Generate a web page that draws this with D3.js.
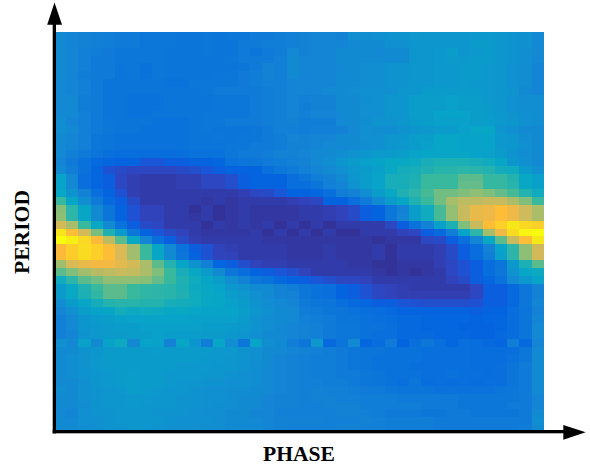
<!DOCTYPE html>
<html>
<head>
<meta charset="utf-8">
<script src="https://cdn.jsdelivr.net/npm/d3@7"></script>
<style>
  body { margin: 0; background: #fff; }
  svg { display: block; }
  .axis-label { font-family: "Liberation Serif", serif; font-weight: bold; font-size: 21.6px; }
</style>
</head>
<body>
<svg id="chart"></svg>
<script>
// colour values, top row first, left to right (0-100)
const heat = [
[27,25,24,23,22,21,21,20,20,20,19,19,20,19,20,20,21,21,22,23,24,25,25,24,28,28,29,30,30,32,31,31,31,31,32,32,31,30,29,26],
[27,25,24,23,22,21,21,20,20,20,19,19,20,19,19,21,21,22,22,23,24,25,25,25,26,27,27,29,29,31,31,31,31,31,33,33,31,30,29,26],
[27,25,23,22,21,20,20,20,20,19,19,19,20,19,19,21,19,21,22,26,24,25,25,27,27,27,26,27,27,31,31,32,34,31,32,33,31,30,28,26],
[27,25,23,21,21,20,20,20,20,19,19,19,19,19,20,21,21,21,23,27,25,25,25,27,27,27,27,27,27,31,31,32,33,32,33,33,31,30,28,26],
[27,25,23,21,21,19,20,18,20,19,19,19,19,19,19,20,21,24,23,27,25,25,25,26,27,28,28,30,30,31,31,32,32,33,33,32,31,29,28,25],
[27,25,22,21,21,19,20,18,20,19,19,19,19,20,20,21,22,24,23,27,25,25,25,26,27,28,28,30,30,31,31,32,32,33,33,32,31,29,28,25],
[26,25,23,21,19,19,19,19,19,18,18,20,20,20,20,21,22,23,23,25,25,25,25,27,27,28,28,30,30,31,31,32,32,33,32,32,31,29,28,25],
[26,25,23,21,19,19,19,19,19,19,19,19,20,21,21,21,21,22,23,25,25,25,26,27,28,29,29,29,31,31,33,33,33,33,33,32,31,30,27,25],
[26,26,22,21,19,19,18,18,18,19,19,19,19,20,20,20,21,22,23,25,23,24,24,27,27,28,29,31,31,34,34,34,35,34,34,32,31,29,28,28],
[26,26,22,21,19,19,18,18,18,19,19,19,19,20,20,20,21,22,23,25,22,24,24,27,27,29,29,31,31,34,34,34,35,34,34,33,31,29,28,28],
[26,26,23,21,19,19,18,18,19,19,19,19,20,20,20,20,21,22,23,25,23,25,25,26,27,29,29,31,31,34,34,36,36,36,34,33,32,30,29,28],
[28,25,23,21,20,19,19,19,18,18,18,19,20,20,21,21,21,22,23,24,22,22,22,26,27,28,30,30,31,33,34,35,35,35,34,34,32,31,29,28],
[28,26,23,21,20,19,19,18,18,18,18,19,20,19,19,19,20,21,23,23,22,23,23,24,26,29,28,28,30,31,32,33,33,35,37,37,31,29,27,27],
[27,25,23,20,19,18,18,18,18,18,18,19,19,20,19,20,20,21,22,25,24,25,25,27,27,29,29,31,31,34,34,37,37,36,36,36,32,31,28,27],
[26,25,23,20,19,18,18,18,18,18,18,19,19,19,20,20,21,21,22,24,24,25,26,26,27,28,29,31,32,33,35,37,37,36,36,36,32,31,29,27],
[26,23,21,19,17,16,16,16,16,16,17,18,18,18,20,21,21,22,24,24,25,26,27,28,30,31,33,33,34,36,37,37,37,37,36,35,33,30,28,27],
[25,21,18,15,14,13,13,11,11,12,12,13,13,14,18,19,20,21,22,23,24,26,28,31,33,35,36,38,38,39,42,43,43,43,42,40,37,31,29,27],
[27,22,18,14,10,8,7,7,7,7,8,9,11,12,13,13,13,17,20,21,23,25,27,29,32,33,35,38,41,42,44,46,46,47,46,45,41,40,33,29],
[36,26,17,14,12,7,5,4,4,4,5,5,7,7,9,12,13,13,13,17,19,22,24,27,31,34,36,42,42,43,50,50,50,55,55,49,49,45,38,35],
[36,26,17,14,12,7,5,4,4,4,5,5,7,7,9,12,13,13,13,17,17,19,23,25,30,34,36,42,42,44,50,50,50,56,56,49,49,46,38,35],
[38,30,24,17,13,10,5,4,4,4,4,4,4,4,4,5,7,8,11,13,13,14,17,22,24,28,34,38,44,47,52,58,58,60,62,60,56,52,45,40],
[50,37,28,21,15,12,8,4,4,4,4,4,3,4,3,4,4,4,4,5,6,7,13,13,17,21,27,33,37,44,50,58,66,70,70,72,72,67,60,50],
[61,47,37,27,19,13,10,6,6,4,4,2,4,2,3,4,3,3,3,3,4,4,5,6,8,12,13,20,24,34,40,52,63,72,78,79,83,79,73,67],
[62,47,37,27,19,13,10,6,6,4,4,3,4,2,3,4,3,3,3,3,4,4,5,6,8,12,13,20,25,34,40,52,63,72,78,79,83,79,73,67],
[74,66,50,38,27,18,12,8,7,4,4,4,2,4,3,4,3,4,2,4,2,4,2,4,4,4,4,7,12,18,24,35,43,60,72,83,88,94,90,88],
[93,83,74,59,44,33,20,13,11,8,6,4,3,3,3,3,4,2,4,2,4,2,4,2,2,4,4,4,6,7,12,15,22,36,47,66,79,91,98,100],
[100,96,90,82,70,55,38,25,17,12,8,5,4,4,4,4,4,3,3,3,3,3,3,3,3,3,2,3,3,3,7,8,12,17,25,38,55,72,83,94],
[82,87,91,88,83,75,65,50,37,26,18,12,10,6,5,4,4,4,4,3,3,3,4,3,3,3,4,2,4,4,4,5,8,12,16,24,36,47,62,74],
[82,87,91,88,83,75,65,50,37,27,19,13,10,6,6,4,4,4,4,3,3,3,4,3,3,3,4,2,4,4,4,5,8,12,16,22,35,47,62,74],
[65,75,78,80,80,77,74,67,55,45,37,30,23,14,12,9,6,5,5,4,4,4,4,4,3,3,2,2,3,3,3,5,7,10,12,16,19,32,43,55],
[55,60,65,69,70,72,71,67,60,50,42,38,33,27,20,16,13,12,11,9,6,4,4,4,4,4,3,2,3,2,3,4,7,10,12,16,20,30,37,39],
[40,47,55,58,62,62,62,61,56,50,44,40,37,34,28,24,20,18,15,13,12,11,9,7,7,6,4,4,4,4,4,4,6,8,12,14,18,26,32,36],
[33,38,44,50,55,55,50,48,47,46,43,39,38,36,32,30,27,27,24,22,20,18,17,13,12,10,7,6,5,4,4,4,4,4,7,12,12,15,20,24],
[33,38,43,48,55,55,50,48,47,46,44,40,38,37,34,32,29,27,24,24,20,18,17,13,12,10,7,6,5,5,5,5,5,5,7,12,12,15,20,24],
[28,33,37,41,45,46,46,45,45,42,41,40,38,37,35,33,30,28,26,25,21,20,19,17,15,14,12,12,11,10,9,9,9,9,10,12,12,15,20,25],
[25,29,34,36,37,41,39,40,39,38,38,37,36,36,36,34,31,29,27,26,22,21,20,19,18,17,16,15,13,13,13,13,13,13,12,13,13,16,19,24],
[23,26,31,33,34,35,36,36,36,36,36,35,35,35,35,33,30,28,27,26,23,22,21,19,19,18,17,16,15,15,14,14,14,14,13,14,14,16,19,25],
[23,26,31,32,33,34,34,35,35,35,35,35,34,34,33,32,30,28,26,25,24,23,21,20,20,18,18,17,15,15,14,14,14,13,13,13,14,16,19,26],
[23,25,30,32,33,33,34,34,35,34,34,34,33,33,32,31,29,27,26,25,24,23,21,20,20,18,17,17,15,15,15,14,14,14,13,13,15,16,19,26],
[29,26,35,27,36,39,26,36,35,24,37,31,22,37,28,20,36,28,27,22,20,32,15,19,26,14,16,21,13,17,20,17,14,17,16,15,14,22,15,25],
[27,27,30,31,33,33,33,33,34,33,33,33,33,32,32,30,29,27,26,25,24,23,22,21,20,19,19,18,18,18,17,17,17,17,16,16,16,17,20,26],
[27,28,30,32,33,33,33,33,33,33,33,33,32,32,31,30,29,27,25,24,23,22,22,21,20,19,18,18,18,18,17,17,17,17,16,16,16,18,20,27],
[27,28,30,32,33,33,33,33,33,33,32,32,32,31,31,30,28,27,25,24,23,22,22,21,20,19,18,18,18,17,17,17,17,17,16,16,17,19,21,27],
[27,28,30,31,32,33,34,33,33,32,32,32,31,31,30,29,28,26,25,24,23,22,22,21,21,20,19,18,18,18,17,17,18,17,17,16,17,19,21,27],
[26,27,29,31,32,33,34,33,33,32,31,31,30,30,29,29,28,26,25,24,23,23,22,22,21,20,19,18,17,19,16,17,16,17,16,17,17,19,21,27],
[28,26,29,30,31,32,34,33,32,31,31,30,29,29,28,28,27,26,25,24,23,24,23,23,22,21,21,20,19,19,19,18,18,18,18,18,19,20,21,26],
[27,27,29,30,31,31,32,32,31,31,30,30,29,29,28,27,27,25,24,24,23,24,24,23,23,22,22,22,21,21,21,21,21,20,20,20,20,20,21,25],
[27,26,28,30,31,31,32,31,31,31,30,30,29,28,28,27,26,25,24,24,23,23,24,24,24,22,22,22,22,22,21,21,21,20,20,20,20,21,21,25],
[26,25,29,30,30,31,31,31,30,30,30,29,28,28,27,27,25,25,23,23,23,23,23,24,24,23,22,21,21,21,20,20,21,21,20,20,20,20,21,27],
[27,26,29,29,30,31,31,31,31,30,29,29,29,28,27,27,26,25,24,24,24,24,23,23,23,24,23,22,22,22,22,21,21,21,21,21,21,21,21,28],
[27,27,28,29,30,30,31,31,30,29,29,29,28,28,27,26,26,25,24,23,23,23,23,24,24,23,23,22,22,22,22,21,21,21,21,21,21,21,22,27]
];

// parula, as it looks in the picture
const colorStops = [0, 6, 11, 12.5, 25, 37.5, 50, 62.5, 75, 82, 88, 94, 100];
const colorValues = ["#352a87", "#3043bb", "#1a56d8", "#0363e1", "#1485d4", "#06a7c6", "#38b99e", "#92bf73", "#d9ba56", "#fdb93a", "#fcd028", "#f5e819", "#f9fb0e"];

const xLabel = "PHASE";
const yLabel = "PERIOD";

const width = 590, height = 469;
const plot = { left: 53.75, right: 543.75, top: 32, bottom: 433 };

const svg = d3.select("#chart")
    .attr("width", width)
    .attr("height", height);

const xScale = d3.scaleBand()
    .domain(d3.range(heat[0].length))
    .range([plot.left, plot.right]);

const yScale = d3.scaleBand()
    .domain(d3.range(heat.length))
    .range([plot.top, plot.bottom]);

const colorScale = d3.scaleLinear()
    .domain(colorStops)
    .range(colorValues)
    .interpolate(d3.interpolateRgb);

// one row group per period, one rect per phase
svg.append("g")
    .attr("shape-rendering", "crispEdges")
    .selectAll("g")
    .data(heat)
    .join("g")
    .attr("transform", (d, i) => `translate(0,${yScale(i)})`)
    .selectAll("rect")
    .data(d => d)
    .join("rect")
    .attr("x", (d, i) => xScale(i))
    .attr("width", xScale.bandwidth())
    .attr("height", yScale.bandwidth())
    .attr("fill", d => colorScale(d));

// axis lines with arrow heads
const axes = svg.append("g").attr("fill", "#000");
axes.append("rect").attr("x", 52.7).attr("y", 20).attr("width", 3.3).attr("height", 413.4);
axes.append("rect").attr("x", 52.7).attr("y", 430).attr("width", 515).attr("height", 3.3);
axes.append("path").attr("d", "M54.5,2.5L62,24.7L47.2,24.7Z");
axes.append("path").attr("d", "M585.7,432.3L563.3,425L563.3,439.7Z");

svg.append("text")
    .attr("class", "axis-label")
    .attr("x", 299)
    .attr("y", 461)
    .attr("text-anchor", "middle")
    .text(xLabel);

svg.append("text")
    .attr("class", "axis-label")
    .attr("transform", "translate(29,232) rotate(-90)")
    .attr("text-anchor", "middle")
    .text(yLabel);
</script>
</body>
</html>
